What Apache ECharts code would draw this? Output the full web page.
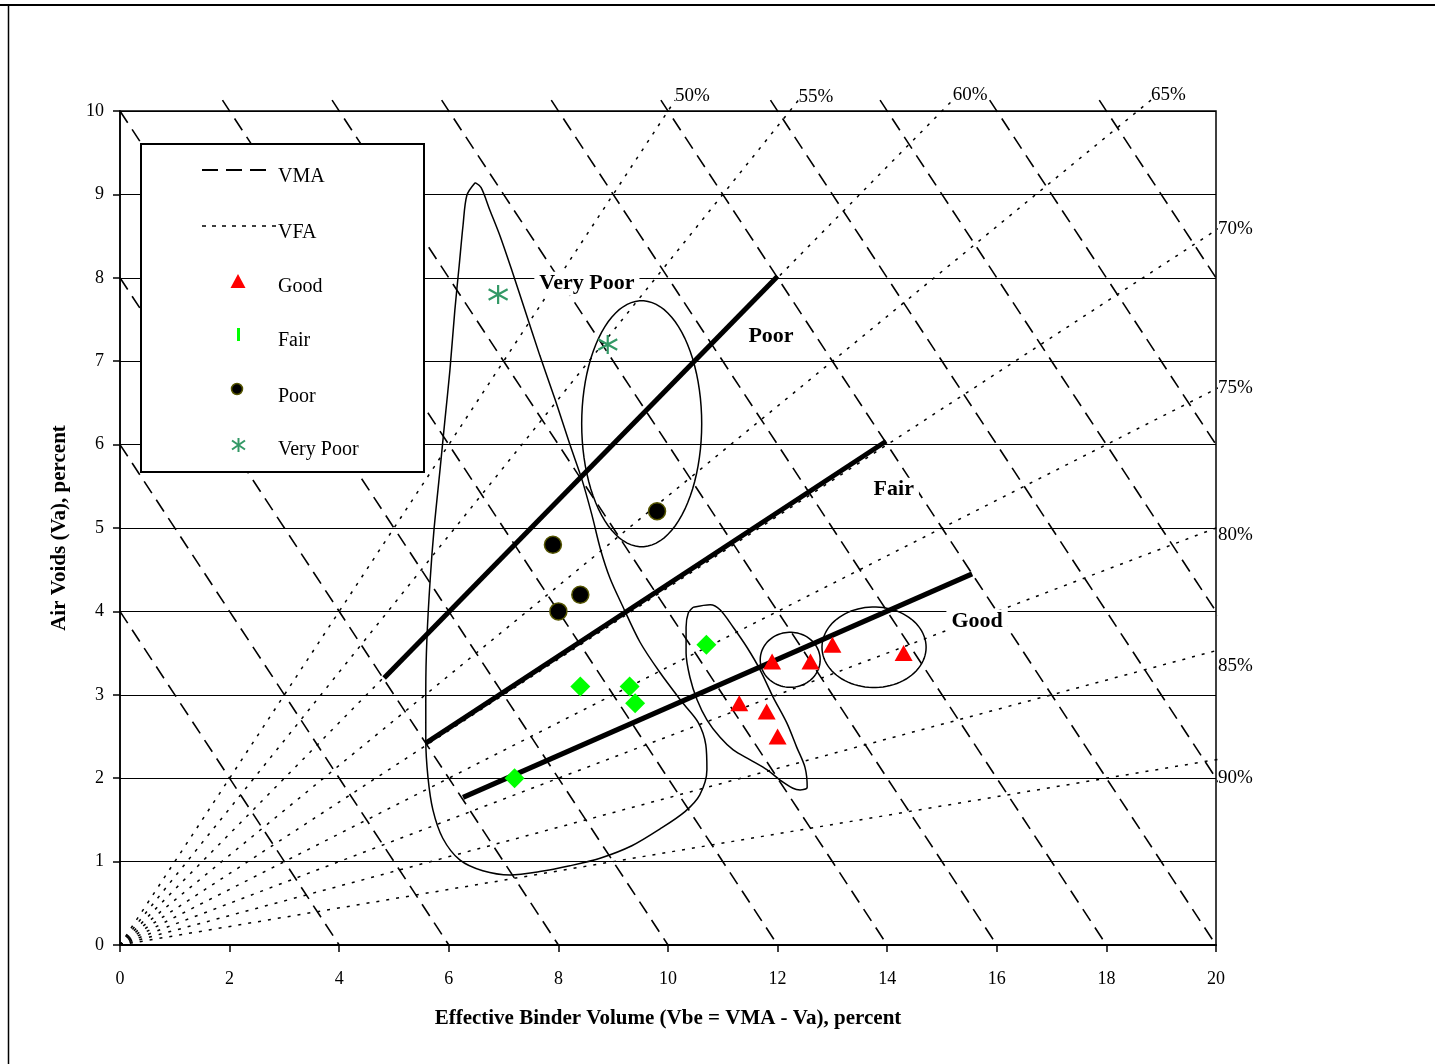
<!DOCTYPE html>
<html><head><meta charset="utf-8">
<script src="https://cdn.jsdelivr.net/npm/echarts@6/dist/echarts.min.js"></script>
<style>html,body{margin:0;padding:0;background:#fff}#c{width:1435px;height:1064px}</style>
</head><body><div id="c"></div>
<script>
// ---- data ----
const VMA_LEVELS = [4, 6, 8, 10, 12, 14, 16, 18, 20, 22, 24, 26, 28];
const VFA_LEVELS = [50, 55, 60, 65, 70, 75, 80, 85, 90];
const goodPts = [[11.3, 2.9], [11.8, 2.8], [12.0, 2.5], [11.9, 3.4], [12.6, 3.4], [13.0, 3.6], [14.3, 3.5]];
const fairPts = [[7.2, 2.0], [8.4, 3.1], [9.3, 3.1], [9.4, 2.9], [10.7, 3.6]];
const poorPts = [[7.9, 4.8], [8.0, 4.0], [8.4, 4.2], [9.8, 5.2]];
const veryPoorPts = [[6.9, 7.8], [8.9, 7.2]];
const boundaryLines = [
  [[4.82, 3.20], [12.0, 8.02]],
  [[5.58, 2.42], [13.98, 6.04]],
  [[6.26, 1.77], [15.55, 4.45]]
];
const zoneLabels = [
  { name: 'Very Poor', value: [8.52, 7.93] },
  { name: 'Poor', value: [11.88, 7.30] },
  { name: 'Fair', value: [14.12, 5.46] },
  { name: 'Good', value: [15.64, 3.88] }
];
const teardrop = [[6.48,9.14],[6.59,9.08],[6.75,8.81],[6.93,8.51],[7.15,8.09],[7.39,7.61],[7.66,7.07],[7.94,6.54],[8.21,6.00],[8.43,5.58],[8.61,5.16],[8.77,4.74],[8.94,4.40],[9.16,4.08],[9.49,3.63],[9.85,3.27],[10.26,2.91],[10.55,2.67],[10.69,2.40],[10.71,2.10],[10.58,1.80],[10.31,1.60],[9.85,1.39],[9.34,1.19],[8.76,1.04],[8.21,0.95],[7.66,0.88],[7.12,0.84],[6.62,0.89],[6.20,1.02],[5.89,1.28],[5.71,1.62],[5.62,2.01],[5.58,2.46],[5.58,3.06],[5.60,3.66],[5.66,4.38],[5.73,4.98],[5.84,5.70],[5.93,6.30],[6.02,6.89],[6.11,7.61],[6.19,8.15],[6.26,8.63],[6.33,8.99],[6.48,9.14]];
const blob = [[10.46,4.05],[10.77,4.08],[10.95,4.02],[11.19,3.81],[11.44,3.57],[11.68,3.30],[11.92,2.97],[12.17,2.66],[12.35,2.37],[12.50,2.13],[12.54,1.89],[12.41,1.86],[12.28,1.88],[12.04,1.98],[11.81,2.10],[11.50,2.22],[11.19,2.34],[10.95,2.49],[10.71,2.70],[10.53,2.94],[10.40,3.21],[10.33,3.50],[10.33,3.81],[10.37,3.98],[10.46,4.05]];
// ellipse outlines: [centerX, centerY, radiusX, radiusY] in data units
const ellipses = [[9.52, 6.25, 1.095, 1.475], [12.23, 3.42, 0.547, 0.33], [13.76, 3.57, 0.95, 0.483]];

// ---- drawing ----
const FONT = '"Liberation Serif", "Times New Roman", serif';
const TOP_EXT = 10.13, RIGHT_EXT = 20.15;
const VFA_LABEL_DY = { 50: -4, 55: -3, 60: -5, 65: -5, 70: 0, 75: 0, 80: 8, 85: 16, 90: 19 };

const series = [];
VMA_LEVELS.forEach(v => {
  const start = v <= 10 ? [0, v] : [v - TOP_EXT, TOP_EXT];
  const end = v <= 20 ? [v, 0] : [RIGHT_EXT, v - RIGHT_EXT];
  series.push({ name: 'VMA ' + v, type: 'line', data: [start, end], symbol: 'none', clip: false, silent: true,
    lineStyle: { color: '#000', width: 1.6, type: [14, 8] }, z: 2 });
});
VFA_LEVELS.forEach(p => {
  const k = (100 - p) / p;
  const end = 20 * k > 10 ? [TOP_EXT / k, TOP_EXT] : [RIGHT_EXT, RIGHT_EXT * k];
  series.push({ name: 'VFA ' + p, type: 'line', data: [[0, 0], end], symbol: 'none', clip: false, silent: true,
    lineStyle: { color: '#000', width: 1.5, type: [3, 7] }, z: 2,
    endLabel: { show: true, formatter: p + '%', distance: 0, offset: [0, VFA_LABEL_DY[p]],
      fontFamily: FONT, fontSize: 19, color: '#000' } });
});
series.push({ type: 'line', data: teardrop, symbol: 'none', smooth: 0.3, clip: false, silent: true,
  lineStyle: { color: '#000', width: 1.5 }, z: 3 });
series.push({ type: 'line', data: blob, symbol: 'none', smooth: 0.3, clip: false, silent: true,
  lineStyle: { color: '#000', width: 1.5 }, z: 3 });
series.push({ type: 'custom', data: ellipses, silent: true, z: 3,
  renderItem: (params, api) => {
    const c = api.coord([api.value(0), api.value(1)]);
    const s = api.size([api.value(2), api.value(3)]);
    const pts = [];
    for (let i = 0; i <= 90; i++) {
      const a = i / 90 * Math.PI * 2;
      pts.push([c[0] + s[0] * Math.cos(a), c[1] + s[1] * Math.sin(a)]);
    }
    return { type: 'polyline', shape: { points: pts }, style: { fill: 'none', stroke: '#000', lineWidth: 1.5 } };
  } });
boundaryLines.forEach(b => {
  series.push({ type: 'line', data: b, symbol: 'none', clip: false, silent: true,
    lineStyle: { color: '#000', width: 5 }, z: 4 });
});
series.push({ name: 'Good', type: 'scatter', data: goodPts, symbol: 'triangle', symbolSize: [18, 16],
  itemStyle: { color: '#ff0000', opacity: 1 }, z: 5 });
series.push({ name: 'Fair', type: 'scatter', data: fairPts, symbol: 'diamond', symbolSize: 20,
  itemStyle: { color: '#00ff00', opacity: 1 }, z: 5 });
series.push({ name: 'Poor', type: 'scatter', data: poorPts, symbol: 'circle', symbolSize: 17,
  itemStyle: { color: '#000', borderColor: '#555500', borderWidth: 1.5, opacity: 1 }, z: 5 });
series.push({ name: 'Very Poor', type: 'scatter', data: veryPoorPts,
  symbol: 'path://M10,0 L10,20 M1.5,4.5 L18.5,15.5 M1.5,15.5 L18.5,4.5', symbolSize: [19, 19],
  itemStyle: { color: 'rgba(0,0,0,0)', borderColor: '#339966', borderWidth: 2.2, opacity: 1 }, z: 5 });
series.push({ type: 'scatter', data: zoneLabels, symbolSize: 1, silent: true,
  itemStyle: { color: '#fff', opacity: 1 }, z: 6,
  label: { show: true, position: 'inside', formatter: '{b}', fontFamily: FONT, fontSize: 22, fontWeight: 'bold',
    color: '#000', opacity: 1, backgroundColor: '#fff', padding: [1, 5] } });

const legendItems = [
  { y: 177, text: 'VMA' }, { y: 233, text: 'VFA' }, { y: 287, text: 'Good' },
  { y: 341, text: 'Fair' }, { y: 397, text: 'Poor' }, { y: 450, text: 'Very Poor' }
];
const graphics = [
  { type: 'line', shape: { x1: 0, y1: 5, x2: 1435, y2: 5 }, style: { stroke: '#000', lineWidth: 2 }, z: 100 },
  { type: 'line', shape: { x1: 8.5, y1: 5, x2: 8.5, y2: 1064 }, style: { stroke: '#000', lineWidth: 1.5 }, z: 100 },
  { type: 'rect', shape: { x: 141, y: 144, width: 283, height: 328 }, style: { fill: '#fff', stroke: '#000', lineWidth: 2 }, z: 100 },
  { type: 'line', shape: { x1: 202, y1: 170, x2: 268, y2: 170 }, style: { stroke: '#000', lineWidth: 2, lineDash: [16, 8] }, z: 101 },
  { type: 'line', shape: { x1: 202, y1: 226, x2: 276, y2: 226 }, style: { stroke: '#000', lineWidth: 1.5, lineDash: [4, 6] }, z: 101 },
  { type: 'polygon', shape: { points: [[238, 274], [245.5, 288], [230.5, 288]] }, style: { fill: '#ff0000' }, z: 101 },
  { type: 'rect', shape: { x: 237, y: 328, width: 3, height: 13 }, style: { fill: '#00ff00' }, z: 101 },
  { type: 'circle', shape: { cx: 237, cy: 389, r: 5.5 }, style: { fill: '#000', stroke: '#555500', lineWidth: 1.5 }, z: 101 },
  { type: 'line', shape: { x1: 238.5, y1: 438, x2: 238.5, y2: 452 }, style: { stroke: '#339966', lineWidth: 2 }, z: 101 },
  { type: 'line', shape: { x1: 232, y1: 440.5, x2: 245, y2: 449.5 }, style: { stroke: '#339966', lineWidth: 2 }, z: 101 },
  { type: 'line', shape: { x1: 232, y1: 449.5, x2: 245, y2: 440.5 }, style: { stroke: '#339966', lineWidth: 2 }, z: 101 }
];
legendItems.forEach(it => graphics.push({ type: 'text', x: 278, y: it.y, z: 101,
  style: { text: it.text, font: '20px ' + FONT, fill: '#000', align: 'left', verticalAlign: 'middle' } }));

const chart = echarts.init(document.getElementById('c'), null, { renderer: 'canvas' });
chart.setOption({
  animation: false,
  backgroundColor: '#fff',
  grid: { left: 120, right: 219, top: 111, bottom: 119, containLabel: false, outerBoundsMode: 'none',
    show: true, borderColor: '#000', borderWidth: 1.5, backgroundColor: 'rgba(0,0,0,0)' },
  xAxis: { type: 'value', min: 0, max: 20, interval: 2,
    name: 'Effective Binder Volume (Vbe = VMA - Va), percent', nameLocation: 'middle', nameGap: 63, nameMoveOverlap: false,
    nameTextStyle: { fontFamily: FONT, fontSize: 21, fontWeight: 'bold', color: '#000' },
    axisLine: { show: true, onZero: false, lineStyle: { color: '#000', width: 2 } },
    axisTick: { show: true, length: 7, lineStyle: { color: '#000', width: 1.5 } },
    axisLabel: { color: '#000', fontFamily: FONT, fontSize: 18, margin: 25 },
    splitLine: { show: false } },
  yAxis: { type: 'value', min: 0, max: 10, interval: 1,
    name: 'Air Voids (Va), percent', nameLocation: 'middle', nameGap: 50, nameMoveOverlap: false,
    nameTextStyle: { fontFamily: FONT, fontSize: 21, fontWeight: 'bold', color: '#000' },
    axisLine: { show: true, onZero: false, lineStyle: { color: '#000', width: 1.5 } },
    axisTick: { show: true, length: 7, lineStyle: { color: '#000', width: 1.5 } },
    axisLabel: { color: '#000', fontFamily: FONT, fontSize: 18, margin: 16, padding: [5, 0, 0, 0] },
    splitLine: { show: true, lineStyle: { color: '#000', width: 1.2 } } },
  series: series,
  graphic: graphics
});
</script></body></html>
